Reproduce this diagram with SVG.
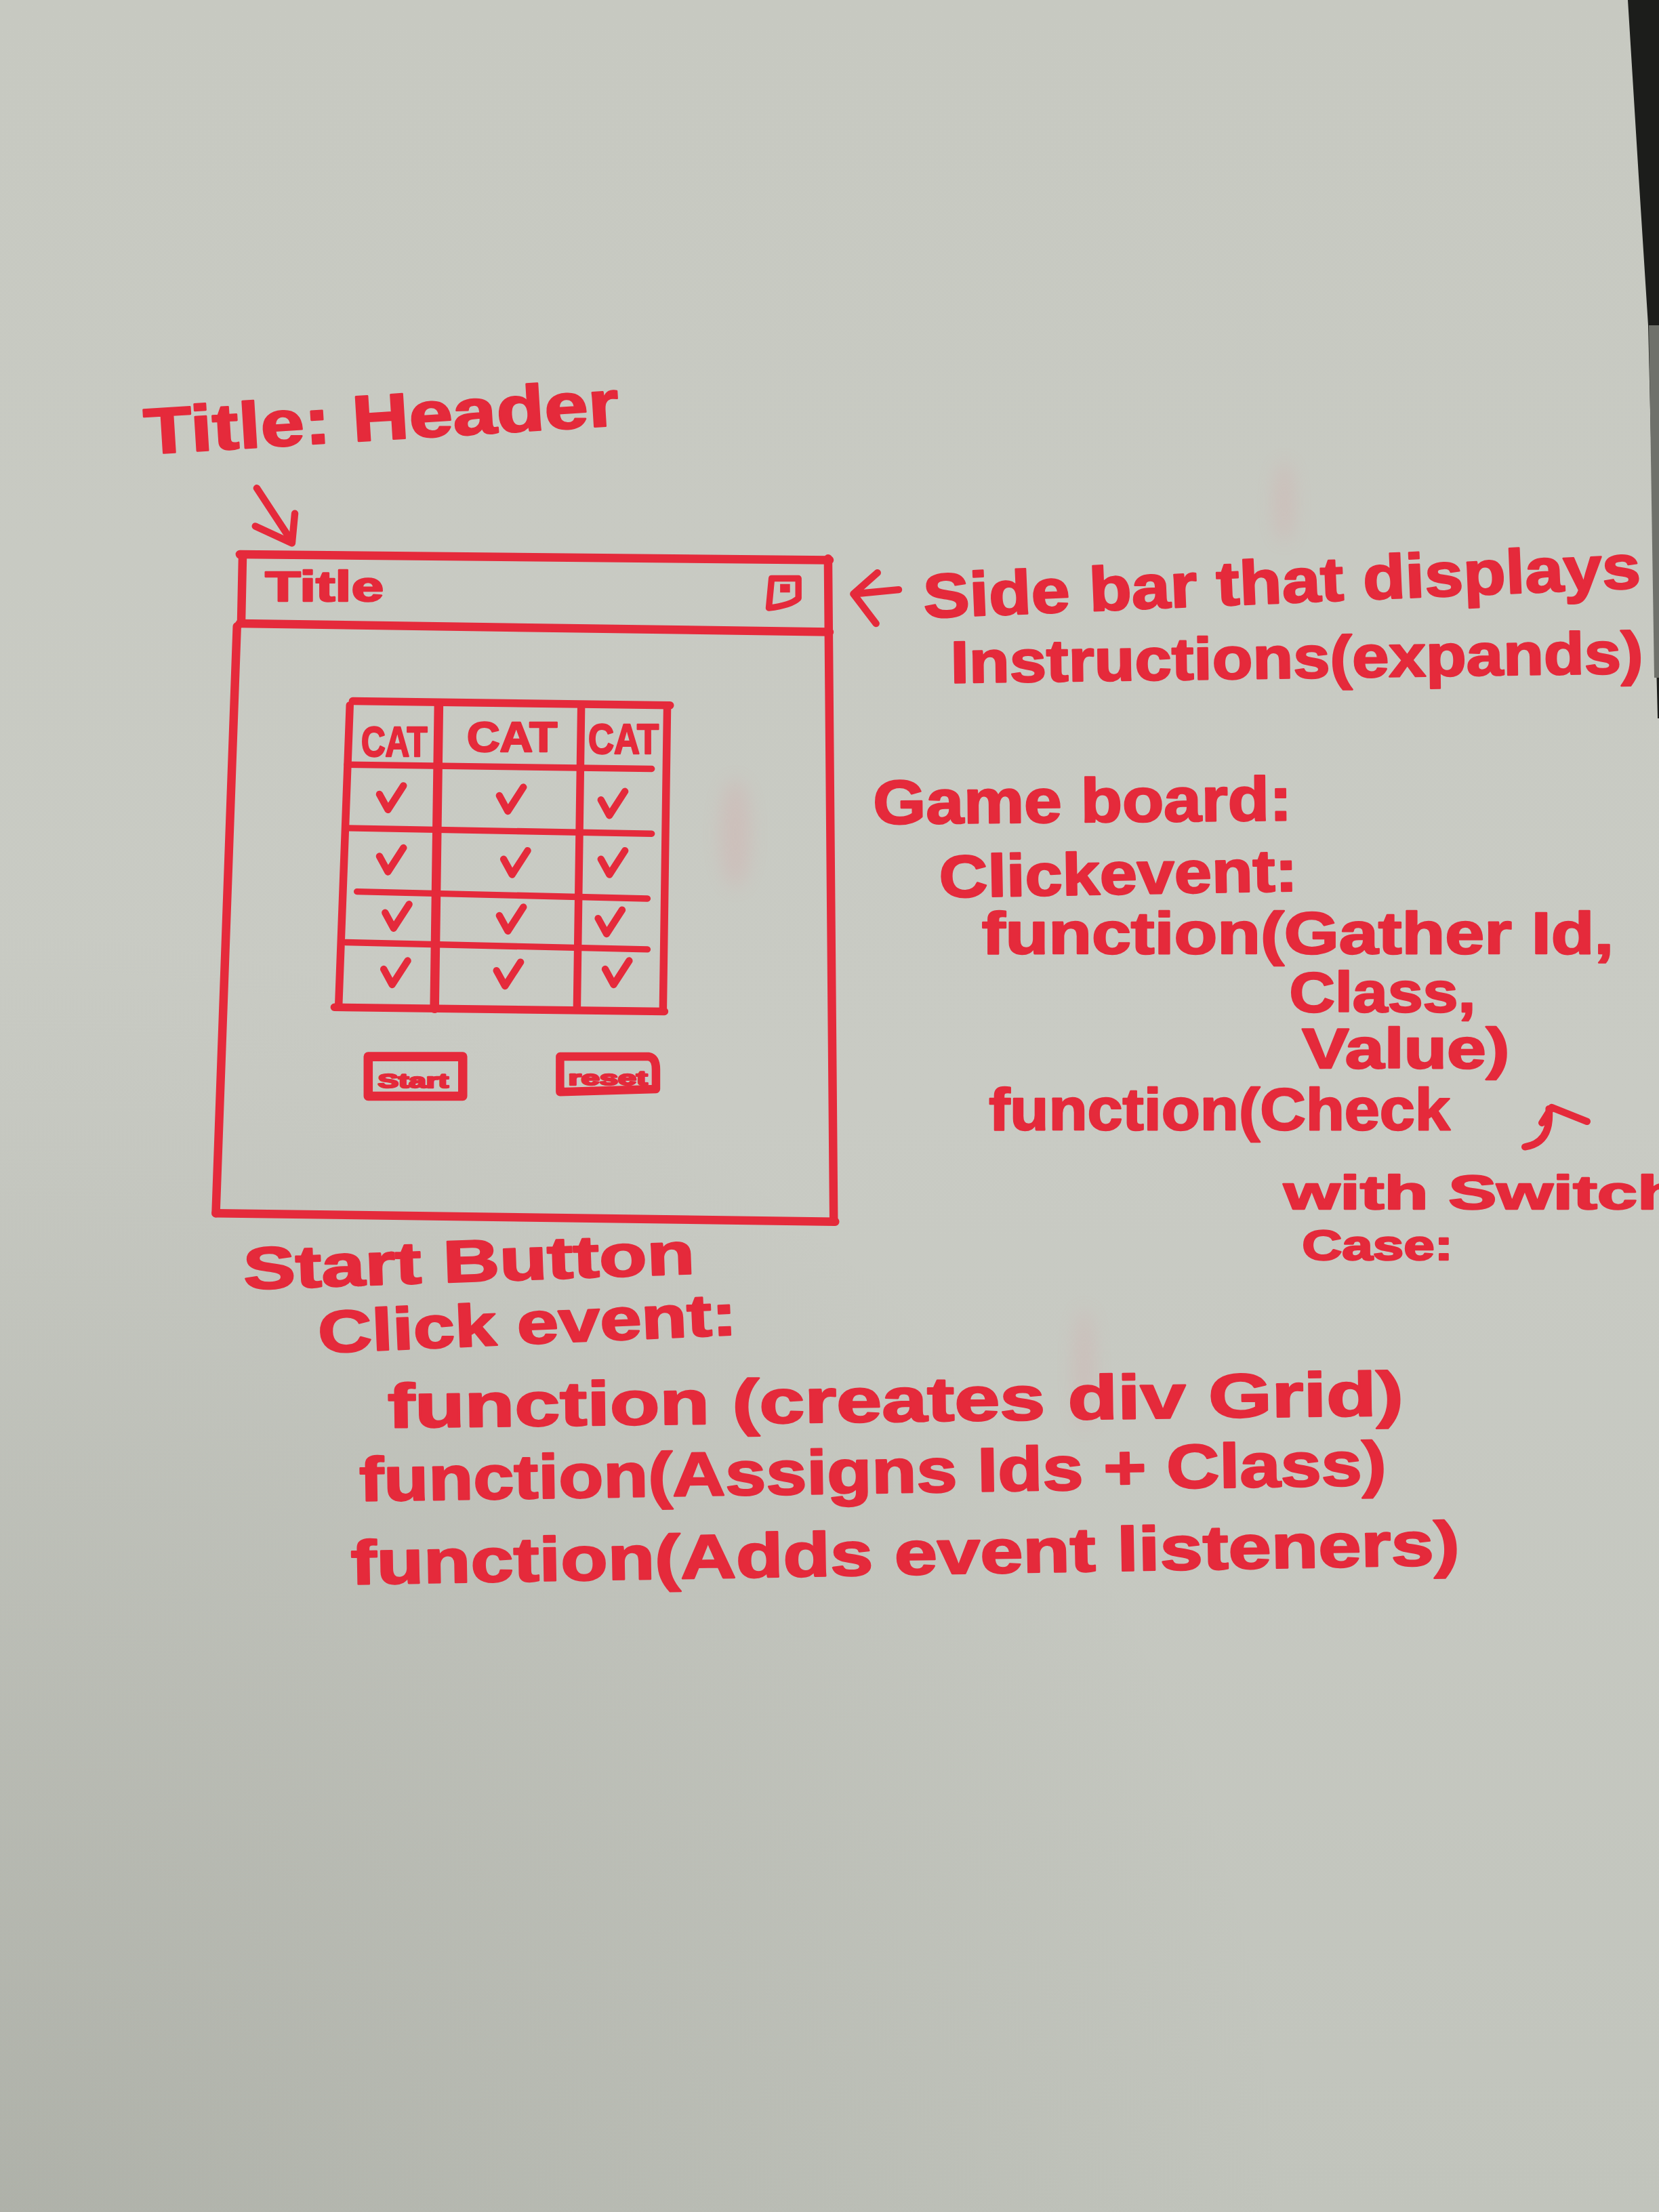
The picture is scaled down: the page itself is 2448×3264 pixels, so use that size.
<svg xmlns="http://www.w3.org/2000/svg" width="2448" height="3264" viewBox="0 0 2448 3264">
  <defs>
    <radialGradient id="shade" cx="0" cy="3264" r="1900" gradientUnits="userSpaceOnUse">
      <stop offset="0" stop-color="#6e6f66" stop-opacity="0.22"/>
      <stop offset="0.55" stop-color="#6e6f66" stop-opacity="0.10"/>
      <stop offset="1" stop-color="#6e6f66" stop-opacity="0"/>
    </radialGradient>
    <linearGradient id="topTone" x1="0" y1="0" x2="0" y2="1">
      <stop offset="0" stop-color="#c7c9c1"/>
      <stop offset="0.5" stop-color="#c9cbc4"/>
      <stop offset="1" stop-color="#c1c4bc"/>
    </linearGradient>
    <filter id="soft" x="-50%" y="-50%" width="200%" height="200%">
      <feGaussianBlur stdDeviation="14"/>
    </filter>
    <path id="tick" d="M-8,-3 L-2,8 L9,-9"/>
    <style>
      .ink { fill: none; stroke: #e52a3b; stroke-linecap: round; stroke-linejoin: round; }
      .frame { stroke-width: 6; }
      .grid { stroke-width: 5.5; }
      .thin { stroke-width: 4.5; }
      .note { font-family: "Liberation Sans", "DejaVu Sans", sans-serif; font-weight: bold; fill: #e52a3b; stroke: #e52a3b; stroke-width: 1.2; stroke-linejoin: round; }
      .tick { fill: none; stroke: #e52a3b; stroke-width: 5; stroke-linecap: round; stroke-linejoin: round; }
    </style>
  </defs>

  <!-- whiteboard surface -->
  <rect width="2448" height="3264" fill="url(#topTone)"/>
  <rect width="2448" height="3264" fill="url(#shade)"/>
  <!-- dark gap along the right edge of the board -->
  <polygon points="2402,0 2448,0 2448,1060 2446,1060 2432,480 2418,260" fill="#1c1d1b"/>
  <polygon points="2433,480 2448,480 2448,1000 2441,1000" fill="#6f716b"/>

  <!-- faint erased smudges -->
  <g fill="#e08a93" opacity="0.18" filter="url(#soft)">
    <ellipse cx="1085" cy="1230" rx="22" ry="80"/>
    <ellipse cx="1600" cy="2020" rx="14" ry="90"/>
    <ellipse cx="1895" cy="740" rx="14" ry="60"/>
  </g>

  <g transform="scale(2.0816)">
    <!-- header annotation -->
    <g id="title-header-note">
      <text class="note" x="103" y="322" font-size="46" textLength="337" lengthAdjust="spacingAndGlyphs" transform="rotate(-3.5 103 322)">Title: Header</text>
    </g>

    <!-- page mock-up: window frame -->
    <g id="window">
      <path class="ink frame" d="M170,393 L588,397"/>
      <path class="ink frame" d="M172,394 L171,442"/>
      <path class="ink frame" d="M170,442 L588,448"/>
      <path class="ink frame" d="M587,396 L591,866"/>
      <path class="ink frame" d="M168,444 L153,860"/>
      <path class="ink frame" d="M153,860 L592,866"/>
    </g>

    <g id="title-bar">
      <text class="note" x="188" y="426" font-size="30" textLength="84" lengthAdjust="spacingAndGlyphs">Title</text>
      <path class="ink" stroke-width="4.5" d="M547,410 L566,410 L566,424 Q561,429 545,431 Z"/>
      <rect x="553" y="414" width="7" height="6" fill="#e52a3b"/>
    </g>

    <!-- game board grid -->
    <g id="game-board">
      <path class="ink grid" d="M250,497 L475,500"/>
      <path class="ink grid" d="M248,500 L240,714"/>
      <path class="ink grid" d="M473,500 L470,716"/>
      <path class="ink grid" d="M237,714 L471,717"/>
      <path class="ink" stroke-width="6.5" d="M311,500 L308,715"/>
      <path class="ink grid" d="M412,502 L409,715"/>
      <path class="ink thin" d="M246,542 L462,545"/>
      <path class="ink thin" d="M246,587 L462,591"/>
      <path class="ink thin" d="M253,632 L459,637"/>
      <path class="ink thin" d="M245,668 L459,673"/>

      <text class="note" x="256" y="536" font-size="30" textLength="47" lengthAdjust="spacingAndGlyphs">CAT</text>
      <text class="note" x="331" y="533" font-size="30" textLength="64" lengthAdjust="spacingAndGlyphs">CAT</text>
      <text class="note" x="417" y="534" font-size="30" textLength="50" lengthAdjust="spacingAndGlyphs">CAT</text>

      <use href="#tick" class="tick" x="277" y="566"/>
      <use href="#tick" class="tick" x="362" y="567"/>
      <use href="#tick" class="tick" x="434" y="570"/>
      <use href="#tick" class="tick" x="277" y="610"/>
      <use href="#tick" class="tick" x="365" y="612"/>
      <use href="#tick" class="tick" x="434" y="612"/>
      <use href="#tick" class="tick" x="281" y="650"/>
      <use href="#tick" class="tick" x="362" y="652"/>
      <use href="#tick" class="tick" x="432" y="654"/>
      <use href="#tick" class="tick" x="280" y="690"/>
      <use href="#tick" class="tick" x="360" y="691"/>
      <use href="#tick" class="tick" x="437" y="690"/>
    </g>

    <g id="start-button">
      <rect class="ink" stroke-width="6.5" x="261" y="749" width="67" height="28"/>
      <text class="note" x="268" y="771" font-size="14" textLength="50" lengthAdjust="spacingAndGlyphs">Start</text>
    </g>
    <g id="reset-button">
      <path class="ink" stroke-width="6" d="M397,749 L460,749 Q465,750 465,758 L465,772 L397,774 Z"/>
      <text class="note" x="403" y="769" font-size="14" textLength="56" lengthAdjust="spacingAndGlyphs">reset</text>
    </g>

    <!-- sidebar annotation -->
    <g id="sidebar-note">
      <text class="note" x="655" y="438" font-size="44" textLength="509" lengthAdjust="spacingAndGlyphs" transform="rotate(-2.4 655 438)">Side bar that displays</text>
      <text class="note" x="674" y="484" font-size="42" textLength="491" lengthAdjust="spacingAndGlyphs" transform="rotate(-0.8 674 484)">Instructions(expands)</text>
    </g>

    <!-- game board annotation -->
    <g id="board-note">
      <text class="note" x="619" y="584" font-size="44" textLength="297" lengthAdjust="spacingAndGlyphs" transform="rotate(-0.5 619 584)">Game board:</text>
      <text class="note" x="666" y="636" font-size="42" textLength="254" lengthAdjust="spacingAndGlyphs" transform="rotate(-1 666 636)">Clickevent:</text>
      <text class="note" x="696" y="676" font-size="42" textLength="448" lengthAdjust="spacingAndGlyphs">function(Gather Id,</text>
      <text class="note" x="914" y="717" font-size="40" textLength="132" lengthAdjust="spacingAndGlyphs">Class,</text>
      <text class="note" x="923" y="757" font-size="40" textLength="147" lengthAdjust="spacingAndGlyphs">Value)</text>
      <text class="note" x="701" y="801" font-size="42" textLength="327" lengthAdjust="spacingAndGlyphs">function(Check</text>
      <text class="note" x="910" y="857" font-size="34" textLength="282" lengthAdjust="spacingAndGlyphs">with Switch</text>
      <text class="note" x="923" y="893" font-size="30" textLength="107" lengthAdjust="spacingAndGlyphs">Case:</text>
    </g>

    <!-- start button annotation -->
    <g id="start-note">
      <text class="note" x="173" y="914" font-size="42" textLength="320" lengthAdjust="spacingAndGlyphs" transform="rotate(-2 173 914)">Start Button</text>
      <text class="note" x="226" y="959" font-size="42" textLength="297" lengthAdjust="spacingAndGlyphs" transform="rotate(-2.5 226 959)">Click event:</text>
      <text class="note" x="275" y="1012" font-size="44" textLength="720" lengthAdjust="spacingAndGlyphs" transform="rotate(-0.7 275 1012)">function (creates div Grid)</text>
      <text class="note" x="255" y="1064" font-size="44" textLength="728" lengthAdjust="spacingAndGlyphs" transform="rotate(-0.9 255 1064)">function(Assigns Ids + Class)</text>
      <text class="note" x="249" y="1123" font-size="44" textLength="786" lengthAdjust="spacingAndGlyphs" transform="rotate(-1 249 1123)">function(Adds event listeners)</text>
    </g>

    <!-- pointers -->
    <g id="connectors">
      <path class="ink" stroke-width="5" d="M182,346 L207,384"/>
      <path class="ink" stroke-width="5" d="M181,373 L207,385 L209,364"/>
      <path class="ink" stroke-width="5" d="M637,418 L606,421"/>
      <path class="ink" stroke-width="5" d="M622,406 L605,421 L621,442"/>
      <path class="ink" stroke-width="5" d="M1081,813 Q1100,810 1098,786"/>
      <path class="ink" stroke-width="5" d="M1093,796 L1100,785 L1125,795"/>
    </g>
  </g>
</svg>
